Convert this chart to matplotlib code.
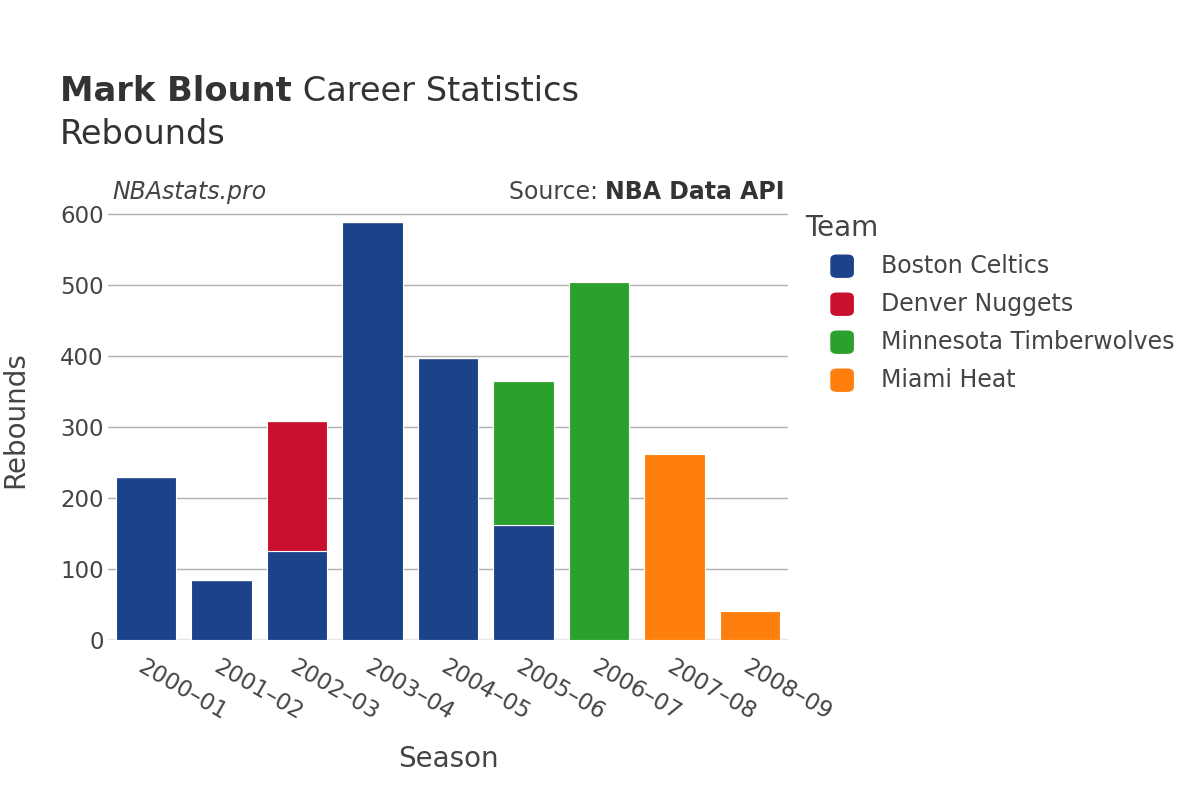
import matplotlib.pyplot as plt
from matplotlib.patches import FancyBboxPatch

# data
seasons = ["2000–01", "2001–02", "2002–03", "2003–04", "2004–05",
           "2005–06", "2006–07", "2007–08", "2008–09"]
teams = ["Boston Celtics", "Denver Nuggets", "Minnesota Timberwolves", "Miami Heat"]
colors = ["#1c428a", "#c8102e", "#2ca02c", "#ff7f0e"]
boston = [230, 85, 125, 589, 397, 162, 0, 0, 0]
denver = [0, 0, 183, 0, 0, 0, 0, 0, 0]
minnesota = [0, 0, 0, 0, 0, 203, 505, 0, 0]
miami = [0, 0, 0, 0, 0, 0, 0, 262, 41]

text_col = "#444444"

fig = plt.figure(figsize=(12, 8), dpi=100)
ax = fig.add_axes([0.09, 0.2, 0.5667, 0.55])

x = list(range(len(seasons)))
bottom = [0] * len(seasons)
for vals, col in zip([boston, denver, minnesota, miami], colors):
    ax.bar(x, vals, width=0.8, bottom=bottom, color=col,
           edgecolor="white", linewidth=0.8, zorder=3)
    bottom = [b + v for b, v in zip(bottom, vals)]

ax.set_xlim(-0.5, len(seasons) - 0.5)
ax.set_ylim(0, 620)
ax.set_yticks(range(0, 601, 100))
ax.grid(axis="y", color="#b0b0b0", linewidth=1, zorder=0)
ax.axhline(0, color="#e6e6e6", linewidth=2.5, zorder=2)
for s in ax.spines.values():
    s.set_visible(False)
ax.tick_params(length=0, labelsize=16.5, labelcolor=text_col)
ax.tick_params(axis="y", pad=3)
ax.set_xticks(x)
ax.set_xticklabels(seasons, rotation=-30, ha="left", rotation_mode="anchor")
ax.tick_params(axis="x", labelsize=16.5, pad=11)

ax.set_xlabel("Season", fontsize=20, color=text_col, labelpad=15)
ax.set_ylabel("Rebounds", fontsize=20, color=text_col, labelpad=22)

# titles
fig.canvas.draw()
r = fig.canvas.get_renderer()
t1 = fig.text(0.05, 0.874, "Mark Blount", fontsize=24.2, fontweight="bold", color="#333333")
bb = t1.get_window_extent(r).transformed(fig.transFigure.inverted())
fig.text(bb.x1, 0.874, " Career Statistics", fontsize=24.2, color="#333333")
fig.text(0.05, 0.82, "Rebounds", fontsize=24.2, color="#333333")

fig.text(0.094, 0.751, "NBAstats.pro", fontsize=17, style="italic", color=text_col)
src = fig.text(0.654, 0.751, "NBA Data API", fontsize=17, fontweight="bold",
               color="#333333", ha="right")
bb = src.get_window_extent(r).transformed(fig.transFigure.inverted())
fig.text(bb.x0, 0.751, "Source: ", fontsize=17, color=text_col, ha="right")

# legend drawn by hand
fig.text(0.671, 0.705, "Team", fontsize=20, color=text_col)
for i, (t, c) in enumerate(zip(teams, colors)):
    yc = 0.667 - i * 0.0475
    fig.add_artist(FancyBboxPatch((0.6925, yc - 0.0135), 0.0185, 0.0275,
                                  boxstyle="round,pad=0,rounding_size=0.005",
                                  transform=fig.transFigure, color=c))
    fig.text(0.734, yc, t, fontsize=17, color=text_col, va="center")

fig.savefig("out.png", dpi=100)
